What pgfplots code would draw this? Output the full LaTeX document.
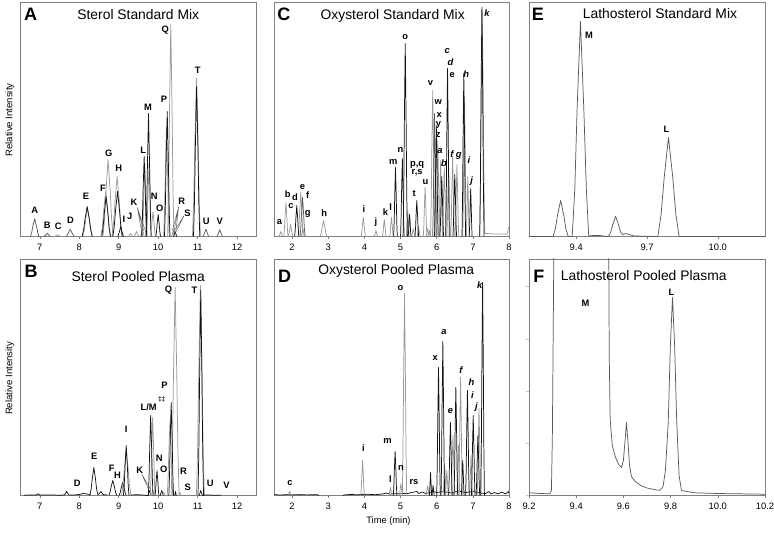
\documentclass[border=0pt]{standalone}
\usepackage{fontspec}
\setmainfont{Liberation Sans}
\usepackage{pgfplots}
\pgfplotsset{compat=1.18}
\definecolor{bk}{gray}{0.08}
\definecolor{gy}{gray}{0.6}
\definecolor{mg}{gray}{0.35}
\definecolor{fr}{gray}{0.5}
\pgfplotsset{
  panel/.style={
    scale only axis, anchor=south west,
    axis line style={fr, line width=0.5pt},
    every outer x axis line/.append style={fr},
    every outer y axis line/.append style={fr},
    tick align=outside, xtick pos=bottom, ytick=\empty,
    tick style={fr, line width=0.4pt}, major tick length=2.2pt,
    ymin=0, clip mode=individual,
    xticklabel style={font=\fontsize{7}{8}\selectfont, inner sep=1pt, yshift=-2.5pt},
    every axis plot/.append style={line width=0.55pt, line join=round},
    no markers,
  },
}
\tikzset{
  lbl/.style={font=\fontsize{7}{8}\selectfont\bfseries, inner sep=0pt},
  ilbl/.style={font=\fontsize{7}{8}\selectfont\bfseries\itshape, inner sep=0pt},
  ttl/.style={font=\fontsize{10.4}{12}\selectfont, inner sep=0pt},
  plt/.style={font=\fontsize{13.5}{14}\selectfont\bfseries, inner sep=0pt},
  ylb/.style={font=\fontsize{7.2}{8}\selectfont, inner sep=0pt, rotate=90},
}
\begin{document}
\begin{tikzpicture}
\useasboundingbox (0,0) rectangle (580.5pt,-403.5pt);
% ---------------- A ----------------
\begin{axis}[panel, at={(15.375pt,-177.375pt)}, width=176.625pt, height=175.875pt,
  xmin=6.51, xmax=12.48, ymax=234.5, xtick={7,8,9,10,11,12}, xticklabels={7,8,9,10,11,12}]
\addplot[mg] coordinates {(6.76,0)(6.793,3.9)(6.826,10.6)(6.87,17.7)(6.914,10.6)(6.947,3.9)(6.98,0)};
\addplot[mg] coordinates {(7.11,0)(7.154,1.65)(7.19,3.3)(7.226,1.65)(7.27,0)};
\addplot[gy] coordinates {(7.37,0)(7.414,0.85)(7.45,1.7)(7.486,0.85)(7.53,0)};
\addplot[mg] coordinates {(7.67,0)(7.725,3.65)(7.77,7.3)(7.815,3.65)(7.87,0)};
\addplot[gy] coordinates {(8.09,0)(8.126,6.2)(8.162,16.8)(8.21,28)(8.258,16.8)(8.294,6.2)(8.33,0)};
\addplot[bk] coordinates {(8.07,0)(8.109,6.6)(8.148,18)(8.2,30)(8.252,18)(8.291,6.6)(8.33,0)};
\addplot[gy] coordinates {(8.55,0)(8.586,9.9)(8.622,27)(8.67,45)(8.718,27)(8.754,9.9)(8.79,0)};
\addplot[gy] coordinates {(8.60,0)(8.639,16.9)(8.678,46.2)(8.73,77)(8.782,46.2)(8.821,16.9)(8.86,0)};
\addplot[bk] coordinates {(8.57,0)(8.603,8.8)(8.636,24)(8.68,40)(8.724,24)(8.757,8.8)(8.79,0)};
\addplot[gy] coordinates {(8.83,0)(8.869,13.2)(8.908,36)(8.96,60)(9.012,36)(9.051,13.2)(9.09,0)};
\addplot[bk] coordinates {(8.85,0)(8.886,9.9)(8.922,27)(8.97,45)(9.018,27)(9.054,9.9)(9.09,0)};
\addplot[bk] coordinates {(8.98,0)(9.019,5)(9.05,10)(9.081,5)(9.12,0)};
\addplot[gy] coordinates {(9.25,0)(9.3,3)(9.35,0)};
\addplot[gy] coordinates {(9.39,0)(9.423,2.5)(9.45,5)(9.477,2.5)(9.51,0)};
\addplot[gy] coordinates {(9.55,0)(9.578,4)(9.6,8)(9.622,4)(9.65,0)};
\addplot[gy] coordinates {(9.6,0)(9.618,15.8)(9.636,43.2)(9.66,72)(9.684,43.2)(9.702,15.8)(9.72,0)};
\addplot[gy] coordinates {(9.705,0)(9.725,16)(9.744,43.8)(9.77,73)(9.796,43.8)(9.815,16)(9.835,0)};
\addplot[bk] coordinates {(9.58,0)(9.6,17.6)(9.619,48)(9.645,80)(9.671,48)(9.69,17.6)(9.71,0)};
\addplot[bk] coordinates {(9.69,0)(9.71,27)(9.729,73.8)(9.755,123)(9.781,73.8)(9.8,27)(9.82,0)};
\addplot[gy] coordinates {(9.81,0)(9.828,5.5)(9.846,15)(9.87,25)(9.894,15)(9.912,5.5)(9.93,0)};
\addplot[bk] coordinates {(9.94,0)(9.958,4.8)(9.976,13.2)(10.0,22)(10.024,13.2)(10.042,4.8)(10.06,0)};
\addplot[gy] coordinates {(10.14,0)(10.161,24.2)(10.182,66)(10.21,110)(10.238,66)(10.259,24.2)(10.28,0)};
\addplot[gy] coordinates {(10.24,0)(10.264,46.6)(10.288,127)(10.32,212)(10.352,127)(10.376,46.6)(10.4,0)};
\addplot[bk] coordinates {(10.16,0)(10.181,27.5)(10.202,75)(10.23,125)(10.258,75)(10.279,27.5)(10.3,0)};
\addplot[gy] coordinates {(10.34,0)(10.362,3)(10.38,6)(10.398,3)(10.42,0)};
\addplot[bk] coordinates {(10.39,0)(10.41,2.5)(10.43,5)(10.45,2.5)(10.47,0)};
\addplot[gy] coordinates {(10.87,0)(10.9,34.8)(10.93,94.8)(10.97,158)(11.01,94.8)(11.04,34.8)(11.07,0)};
\addplot[bk] coordinates {(10.895,0)(10.919,33)(10.943,90)(10.975,150)(11.007,90)(11.031,33)(11.055,0)};
\addplot[mg] coordinates {(11.14,0)(11.178,3.65)(11.21,7.3)(11.242,3.65)(11.28,0)};
\addplot[mg] coordinates {(11.49,0)(11.528,3.35)(11.56,6.7)(11.592,3.35)(11.63,0)};
\draw[mg, line width=0.3pt] (axis cs:9.47,29) -- (axis cs:9.58,5) (axis cs:9.47,29) -- (axis cs:9.63,6) (axis cs:9.47,29) -- (axis cs:9.69,4);
\draw[mg, line width=0.3pt] (axis cs:10.52,30) -- (axis cs:10.36,6) (axis cs:10.52,30) -- (axis cs:10.40,5) (axis cs:10.52,30) -- (axis cs:10.45,5);
\draw[mg, line width=0.3pt] (axis cs:10.66,21) -- (axis cs:10.38,4) (axis cs:10.66,21) -- (axis cs:10.43,3);
\node[lbl] at (axis cs:6.87,26) {A};
\node[lbl] at (axis cs:7.19,11) {B};
\node[lbl] at (axis cs:7.47,10) {C};
\node[lbl] at (axis cs:7.78,16.7) {D};
\node[lbl] at (axis cs:8.17,40) {E};
\node[lbl] at (axis cs:8.60,48) {F};
\node[lbl] at (axis cs:8.75,83) {G};
\node[lbl] at (axis cs:9.00,68) {H};
\node[lbl] at (axis cs:9.13,17) {I};
\node[lbl] at (axis cs:9.28,20) {J};
\node[lbl] at (axis cs:9.39,34) {K};
\node[lbl] at (axis cs:9.62,86) {L};
\node[lbl] at (axis cs:9.74,129) {M};
\node[lbl] at (axis cs:9.90,40) {N};
\node[lbl] at (axis cs:10.04,28) {O};
\node[lbl] at (axis cs:10.15,137) {P};
\node[lbl] at (axis cs:10.18,206) {Q};
\node[lbl] at (axis cs:10.60,35) {R};
\node[lbl] at (axis cs:10.74,23) {S};
\node[lbl] at (axis cs:11.00,166) {T};
\node[lbl] at (axis cs:11.22,15) {U};
\node[lbl] at (axis cs:11.56,15) {V};
\node[ttl] at (rel axis cs:0.5,0.945) {Sterol Standard Mix};
\node[plt] at (rel axis cs:0.0425,0.949) {A};
\node[ylb] at (rel axis cs:-0.045,0.497) {Relative Intensity};
\end{axis}
% ---------------- B ----------------
\begin{axis}[panel, at={(15.375pt,-371.625pt)}, width=176.625pt, height=177.375pt,
  xmin=6.51, xmax=12.48, ymax=236.5, xtick={7,8,9,10,11,12}, xticklabels={7,8,9,10,11,12}]
\addplot[bk] coordinates {(6.6,0.3)(6.8,0.6)(6.9,0.4)(6.95,1.7)(7.0,0.4)(7.3,0.5)(7.5,0.3)(7.62,0.5)(7.653,2.15)(7.68,4.3)(7.707,2.15)(7.74,0.5)(7.9,0.6)(8.0,1)(8.1,2)(8.2,1.5)(8.27,1)};
\addplot[bk] coordinates {(8.27,0)(8.3,6.2)(8.33,16.8)(8.37,28)(8.41,16.8)(8.44,6.2)(8.47,1)(8.5,1.5)(8.55,4)(8.6,1)(8.7,0.5)};
\addplot[bk] coordinates {(8.75,0)(8.78,3.3)(8.81,9)(8.85,15)(8.89,9)(8.92,3.3)(8.95,0)};
\addplot[bk] coordinates {(9.01,0)(9.037,2.9)(9.064,7.8)(9.1,13)(9.136,7.8)(9.163,2.9)(9.19,0)};
\addplot[gy] coordinates {(9.07,0)(9.106,9.9)(9.142,27)(9.19,45)(9.238,27)(9.274,9.9)(9.31,0)};
\addplot[bk] coordinates {(9.12,0)(9.141,11)(9.162,30)(9.19,50)(9.218,30)(9.239,11)(9.26,0)};
\addplot[bk] coordinates {(9.3,0.5)(9.5,0.8)(9.74,0)(9.78,5)(9.82,0)};
\addplot[gy] coordinates {(9.83,0)(9.86,6)(9.9,0)};
\addplot[gy] coordinates {(9.8,0)(9.818,17.2)(9.836,46.8)(9.86,78)(9.884,46.8)(9.902,17.2)(9.92,0)};
\addplot[bk] coordinates {(9.75,0)(9.768,17.6)(9.786,48)(9.81,80)(9.834,48)(9.852,17.6)(9.87,0)};
\addplot[bk] coordinates {(9.92,0)(9.935,5.5)(9.95,15)(9.97,25)(9.99,15)(10.005,5.5)(10.02,0)};
\addplot[bk] coordinates {(10.05,0)(10.09,5)(10.13,0)};
\addplot[gy] coordinates {(10.11,0)(10.14,3)(10.18,0)};
\addplot[gy] coordinates {(10.23,0)(10.251,16.5)(10.272,45)(10.3,75)(10.328,45)(10.349,16.5)(10.37,0)};
\addplot[gy] coordinates {(10.33,0)(10.36,45.8)(10.39,124.8)(10.43,208)(10.47,124.8)(10.5,45.8)(10.53,0)};
\addplot[bk] coordinates {(10.27,0)(10.288,20.5)(10.306,55.8)(10.33,93)(10.354,55.8)(10.372,20.5)(10.39,0)};
\addplot[bk] coordinates {(10.42,0)(10.44,4)(10.46,0)};
\addplot[gy] coordinates {(10.52,0)(10.55,3)(10.58,0)};
\addplot[gy] coordinates {(10.97,0)(11.0,46.2)(11.03,126)(11.07,210)(11.11,126)(11.14,46.2)(11.17,0)};
\addplot[bk] coordinates {(11.01,0)(11.031,45.1)(11.052,123)(11.08,205)(11.108,123)(11.129,45.1)(11.15,0)};
\addplot[bk] coordinates {(11.04,0)(11.08,5)(11.12,0)(11.2,0.6)(11.4,0.3)(11.6,0.4)};
\draw[mg, line width=0.3pt] (axis cs:9.58,21.7) -- (axis cs:9.77,5) (axis cs:9.58,21.7) -- (axis cs:9.80,6.7);
\node[lbl] at (axis cs:7.95,12.3) {D};
\node[lbl] at (axis cs:8.38,39) {E};
\node[lbl] at (axis cs:8.82,27) {F};
\node[lbl] at (axis cs:8.97,20) {H};
\node[lbl] at (axis cs:9.19,66) {I};
\node[lbl] at (axis cs:9.53,25) {K};
\node[lbl] at (axis cs:9.76,88) {L/M};
\node[font=\fontsize{5}{6}\selectfont\bfseries, inner sep=0pt] at (axis cs:10.09,96) {‡‡};
\node[lbl] at (axis cs:10.03,37) {N};
\node[lbl] at (axis cs:10.14,26) {O};
\node[lbl] at (axis cs:10.16,110) {P};
\node[lbl] at (axis cs:10.26,205) {Q};
\node[lbl] at (axis cs:10.64,24) {R};
\node[lbl] at (axis cs:10.75,8) {S};
\node[lbl] at (axis cs:10.92,205) {T};
\node[lbl] at (axis cs:11.32,12) {U};
\node[lbl] at (axis cs:11.73,10) {V};
\node[ttl] at (rel axis cs:0.5,0.927) {Sterol Pooled Plasma};
\node[plt] at (rel axis cs:0.045,0.946) {B};
\node[ylb] at (rel axis cs:-0.045,0.495) {Relative Intensity};
\end{axis}
% ---------------- C ----------------
\begin{axis}[panel, at={(205.5pt,-177.375pt)}, width=176.25pt, height=175.875pt,
  xmin=1.5, xmax=8, ymax=234.5, xtick={2,3,4,5,6,7,8}, xticklabels={2,3,4,5,6,7,8}]
\addplot[gy] coordinates {(1.64,0)(1.667,2.5)(1.69,5)(1.713,2.5)(1.74,0)};
\addplot[gy] coordinates {(1.77,0)(1.788,7.5)(1.806,20.4)(1.83,34)(1.854,20.4)(1.872,7.5)(1.89,0)};
\addplot[gy] coordinates {(1.9,0)(1.933,6)(1.96,12)(1.987,6)(2.02,0)};
\addplot[gy] coordinates {(2.17,0)(2.191,9.7)(2.212,26.4)(2.24,44)(2.268,26.4)(2.289,9.7)(2.31,0)};
\addplot[bk] coordinates {(2.07,0)(2.088,6.8)(2.106,18.6)(2.13,31)(2.154,18.6)(2.172,6.8)(2.19,0)};
\addplot[mg] coordinates {(2.22,0)(2.241,8.6)(2.262,23.4)(2.29,39)(2.318,23.4)(2.339,8.6)(2.36,0)};
\addplot[gy] coordinates {(2.25,0)(2.28,4)(2.3,8)(2.32,4)(2.35,0)};
\addplot[gy] coordinates {(2.78,0)(2.807,3.5)(2.834,9.6)(2.87,16)(2.906,9.6)(2.933,3.5)(2.96,0)};
\addplot[gy] coordinates {(3.91,0)(3.928,4.2)(3.946,11.4)(3.97,19)(3.994,11.4)(4.012,4.2)(4.03,0)};
\addplot[gy] coordinates {(4.27,0)(4.3,3)(4.32,6)(4.34,3)(4.37,0)};
\addplot[gy] coordinates {(4.5,0)(4.515,3.7)(4.53,10.2)(4.55,17)(4.57,10.2)(4.585,3.7)(4.6,0)};
\addplot[gy] coordinates {(4.7,0)(4.715,4.2)(4.73,11.4)(4.75,19)(4.77,11.4)(4.785,4.2)(4.8,0)};
\addplot[gy] coordinates {(5.16,0)(5.172,5.7)(5.184,15.6)(5.2,26)(5.216,15.6)(5.228,5.7)(5.24,0)};
\addplot[gy] coordinates {(5.31,0)(5.35,8)(5.39,0)};
\addplot[gy] coordinates {(5.46,0)(5.5,10)(5.54,0)};
\addplot[gy] coordinates {(5.63,0)(5.645,10.8)(5.66,29.4)(5.68,49)(5.7,29.4)(5.715,10.8)(5.73,0)};
\addplot[gy] coordinates {(5.71,0)(5.75,8)(5.79,0)};
\addplot[gy] coordinates {(5.77,0)(5.8,6)(5.83,0)};
\addplot[gy] coordinates {(5.83,0)(5.848,32.1)(5.866,87.6)(5.89,146)(5.914,87.6)(5.932,32.1)(5.95,0)};
\addplot[gy] coordinates {(5.98,0)(5.995,21.1)(6.01,57.6)(6.03,96)(6.05,57.6)(6.065,21.1)(6.08,0)};
\addplot[gy] coordinates {(6.06,0)(6.075,16.7)(6.09,45.6)(6.11,76)(6.13,45.6)(6.145,16.7)(6.16,0)};
\addplot[gy] coordinates {(6.16,0)(6.175,15.2)(6.19,41.4)(6.21,69)(6.23,41.4)(6.245,15.2)(6.26,0)};
\addplot[gy] coordinates {(6.28,0)(6.295,15.4)(6.31,42)(6.33,70)(6.35,42)(6.365,15.4)(6.38,0)};
\addplot[gy] coordinates {(6.39,0)(6.405,17.6)(6.42,48)(6.44,80)(6.46,48)(6.475,17.6)(6.49,0)};
\addplot[gy] coordinates {(6.51,0)(6.525,15.8)(6.54,43.2)(6.56,72)(6.58,43.2)(6.595,15.8)(6.61,0)};
\addplot[gy] coordinates {(6.72,0)(6.735,30.8)(6.75,84)(6.77,140)(6.79,84)(6.805,30.8)(6.82,0)};
\addplot[gy] coordinates {(6.82,0)(6.832,13.2)(6.844,36)(6.86,60)(6.876,36)(6.888,13.2)(6.9,0)};
\addplot[gy] coordinates {(7.19,0)(7.211,49.5)(7.232,135)(7.26,225)(7.288,135)(7.309,49.5)(7.33,3)(7.4,3)(7.6,2.5)(7.95,2.5)(7.99,9)(8.0,9)};
\addplot[bk] coordinates {(4.81,0)(4.825,15.2)(4.84,41.4)(4.86,69)(4.88,41.4)(4.895,15.2)(4.91,0)};
\addplot[bk] coordinates {(5.0,0)(5.015,17.2)(5.03,46.8)(5.05,78)(5.07,46.8)(5.085,17.2)(5.1,0)};
\addplot[bk] coordinates {(5.07,0)(5.088,42.5)(5.106,115.8)(5.13,193)(5.154,115.8)(5.172,42.5)(5.19,0)};
\addplot[bk] coordinates {(5.21,0)(5.222,4.8)(5.234,13.2)(5.25,22)(5.266,13.2)(5.278,4.8)(5.29,0)};
\addplot[bk] coordinates {(5.4,0)(5.415,7.9)(5.43,21.6)(5.45,36)(5.47,21.6)(5.485,7.9)(5.5,0)};
\addplot[mg] coordinates {(5.89,0)(5.905,27.1)(5.92,73.8)(5.94,123)(5.96,73.8)(5.975,27.1)(5.99,0)};
\addplot[bk] coordinates {(5.94,0)(5.955,24.4)(5.97,66.6)(5.99,111)(6.01,66.6)(6.025,24.4)(6.04,0)};
\addplot[bk] coordinates {(6.09,0)(6.105,13.2)(6.12,36)(6.14,60)(6.16,36)(6.175,13.2)(6.19,0)};
\addplot[bk] coordinates {(6.25,0)(6.265,37)(6.28,100.8)(6.3,168)(6.32,100.8)(6.335,37)(6.35,0)};
\addplot[bk] coordinates {(6.45,0)(6.465,13.6)(6.48,37.2)(6.5,62)(6.52,37.2)(6.535,13.6)(6.55,0)};
\addplot[bk] coordinates {(6.7,0)(6.715,35.9)(6.73,97.8)(6.75,163)(6.77,97.8)(6.785,35.9)(6.8,0)};
\addplot[bk] coordinates {(6.9,0)(6.912,10.6)(6.924,28.8)(6.94,48)(6.956,28.8)(6.968,10.6)(6.98,0)};
\addplot[bk] coordinates {(7.19,0)(7.208,50.4)(7.226,137.4)(7.25,229)(7.274,137.4)(7.292,50.4)(7.31,0)};
\node[lbl] at (axis cs:1.65,14) {a};
\node[lbl] at (axis cs:1.88,42) {b};
\node[lbl] at (axis cs:1.97,30) {c};
\node[lbl] at (axis cs:2.08,39) {d};
\node[lbl] at (axis cs:2.29,49) {e};
\node[lbl] at (axis cs:2.43,41) {f};
\node[lbl] at (axis cs:2.43,23) {g};
\node[lbl] at (axis cs:2.89,23) {h};
\node[lbl] at (axis cs:3.99,27) {i};
\node[lbl] at (axis cs:4.32,14) {j};
\node[lbl] at (axis cs:4.58,24) {k};
\node[lbl] at (axis cs:4.73,29) {l};
\node[lbl] at (axis cs:4.80,75) {m};
\node[lbl] at (axis cs:5.00,87) {n};
\node[lbl] at (axis cs:5.13,199) {o};
\node[lbl] at (axis cs:5.46,72) {p,q};
\node[lbl] at (axis cs:5.46,64) {r,s};
\node[lbl] at (axis cs:5.38,43) {t};
\node[lbl] at (axis cs:5.69,54) {u};
\node[lbl] at (axis cs:5.83,153) {v};
\node[lbl] at (axis cs:6.04,134) {w};
\node[lbl] at (axis cs:6.07,121) {x};
\node[lbl] at (axis cs:6.05,111) {y};
\node[lbl] at (axis cs:6.04,101) {z};
\node[ilbl] at (axis cs:6.09,85) {a};
\node[ilbl] at (axis cs:6.20,73) {b};
\node[ilbl] at (axis cs:6.29,185) {c};
\node[ilbl] at (axis cs:6.38,174) {d};
\node[lbl] at (axis cs:6.43,161) {e};
\node[ilbl] at (axis cs:6.42,82) {f};
\node[ilbl] at (axis cs:6.61,81) {g};
\node[ilbl] at (axis cs:6.82,162) {h};
\node[ilbl] at (axis cs:6.89,76) {i};
\node[ilbl] at (axis cs:6.97,55) {j};
\node[ilbl] at (axis cs:7.39,223) {k};
\node[ttl] at (rel axis cs:0.505,0.94) {Oxysterol Standard Mix};
\node[plt] at (rel axis cs:0.042,0.947) {C};
\end{axis}
% ---------------- D ----------------
\begin{axis}[panel, at={(205.5pt,-371.625pt)}, width=176.25pt, height=177.375pt,
  xmin=1.5, xmax=8, ymax=236.5, xtick={2,3,4,5,6,7,8}, xticklabels={2,3,4,5,6,7,8}]
\addplot[bk] coordinates {(1.5,0.8)(1.7,0.5)(1.85,0.9)(2.0,0.6)(2.2,0.9)(2.4,0.6)(2.7,0.8)(2.75,0)};
\addplot[bk] coordinates {(3.4,0)(3.45,0.6)(3.6,1)(3.8,0.8)(4.1,1.2)(4.3,0.8)(4.5,1.5)(4.6,2.5)(4.7,1.5)(4.9,1.8)(5.2,2)(5.3,3)(5.45,4)(5.5,2)(5.6,3.5)(5.7,2)(5.9,4)(6.0,3)(6.2,4)(6.4,2.5)(6.6,4.5)(6.8,3)(7.0,4)(7.2,2.5)(7.35,2)(7.45,4)(7.5,1.5)(7.6,3)(7.7,1.5)(7.8,3.5)(7.9,1.5)(7.98,4)(8.0,2)};
\addplot[gy] coordinates {(1.88,0)(1.91,2)(1.93,4)(1.95,2)(1.98,0)};
\addplot[gy] coordinates {(3.9,0)(3.915,7.7)(3.93,21)(3.95,35)(3.97,21)(3.985,7.7)(4.0,0)};
\addplot[gy] coordinates {(4.68,0)(4.7,4)(4.72,8)(4.74,4)(4.76,0)};
\addplot[gy] coordinates {(4.97,0)(4.99,6)(5.01,12)(5.03,6)(5.05,0)};
\addplot[gy] coordinates {(5.05,0)(5.068,44.4)(5.086,121.2)(5.11,202)(5.134,121.2)(5.152,44.4)(5.17,0)};
\addplot[gy] coordinates {(5.71,0)(5.75,10)(5.79,0)};
\addplot[gy] coordinates {(6.18,0)(6.22,30)(6.26,0)};
\addplot[gy] coordinates {(6.24,0)(6.28,25)(6.32,0)};
\addplot[gy] coordinates {(6.4,0)(6.415,13.2)(6.43,36)(6.45,60)(6.47,36)(6.485,13.2)(6.5,0)};
\addplot[gy] coordinates {(6.56,0)(6.572,11)(6.584,30)(6.6,50)(6.616,30)(6.628,11)(6.64,0)};
\addplot[gy] coordinates {(6.61,0)(6.625,26)(6.64,70.8)(6.66,118)(6.68,70.8)(6.695,26)(6.71,0)};
\addplot[gy] coordinates {(6.91,0)(6.922,8.8)(6.934,24)(6.95,40)(6.966,24)(6.978,8.8)(6.99,0)};
\addplot[gy] coordinates {(7.12,0)(7.135,19.1)(7.15,52.2)(7.17,87)(7.19,52.2)(7.205,19.1)(7.22,0)};
\addplot[bk] coordinates {(4.8,0)(4.815,9.7)(4.83,26.4)(4.85,44)(4.87,26.4)(4.885,9.7)(4.9,0)};
\addplot[bk] coordinates {(5.8,0)(5.83,23)(5.86,0)};
\addplot[bk] coordinates {(5.87,0)(5.9,10)(5.93,0)};
\addplot[bk] coordinates {(6.0,0)(6.015,28.2)(6.03,76.8)(6.05,128)(6.07,76.8)(6.085,28.2)(6.1,0)};
\addplot[bk] coordinates {(6.12,0)(6.135,33.9)(6.15,92.4)(6.17,154)(6.19,92.4)(6.205,33.9)(6.22,0)};
\addplot[bk] coordinates {(6.33,0)(6.345,16.1)(6.36,43.8)(6.38,73)(6.4,43.8)(6.415,16.1)(6.43,0)};
\addplot[bk] coordinates {(6.48,0)(6.495,23.8)(6.51,64.8)(6.53,108)(6.55,64.8)(6.565,23.8)(6.58,0)};
\addplot[bk] coordinates {(6.68,0)(6.692,7.7)(6.704,21)(6.72,35)(6.736,21)(6.748,7.7)(6.76,0)};
\addplot[bk] coordinates {(6.8,0)(6.815,23.1)(6.83,63)(6.85,105)(6.87,63)(6.885,23.1)(6.9,0)};
\addplot[bk] coordinates {(6.96,0)(6.975,17.6)(6.99,48)(7.01,80)(7.03,48)(7.045,17.6)(7.06,0)};
\addplot[bk] coordinates {(7.09,0)(7.105,13.2)(7.12,36)(7.14,60)(7.16,36)(7.175,13.2)(7.19,0)};
\addplot[bk] coordinates {(7.22,0)(7.235,46.9)(7.25,127.8)(7.27,213)(7.29,127.8)(7.305,46.9)(7.32,0)};
\node[lbl] at (axis cs:1.94,12) {c};
\node[lbl] at (axis cs:3.97,47) {i};
\node[lbl] at (axis cs:4.64,55) {m};
\node[lbl] at (axis cs:4.72,16) {l};
\node[lbl] at (axis cs:5.01,28) {n};
\node[lbl] at (axis cs:5.37,13) {rs};
\node[lbl] at (axis cs:5.0,207) {o};
\node[lbl] at (axis cs:5.96,137) {x};
\node[ilbl] at (axis cs:6.20,163) {a};
\node[ilbl] at (axis cs:6.38,84) {e};
\node[ilbl] at (axis cs:6.67,125) {f};
\node[ilbl] at (axis cs:6.96,113) {h};
\node[ilbl] at (axis cs:6.99,100) {i};
\node[ilbl] at (axis cs:7.10,88) {j};
\node[ilbl] at (axis cs:7.19,210) {k};
\node[ttl] at (rel axis cs:0.52,0.951) {Oxysterol Pooled Plasma};
\node[plt] at (rel axis cs:0.045,0.926) {D};
\node[font=\fontsize{7}{8}\selectfont, inner sep=0pt] at (rel axis cs:0.487,-0.109) {Time (min)};
\end{axis}
% ---------------- E ----------------
\begin{axis}[panel, at={(396.75pt,-177.375pt)}, width=177pt, height=175.875pt,
  xmin=9.2, xmax=10.2, ymax=234.5, xtick={9.4,9.7,10.0}, xticklabels={9.4,9.7,10.0}]
\addplot[mg] coordinates {(9.2,0)(9.302,0)(9.312,7.9)(9.321,21.6)(9.334,36)(9.347,21.6)(9.356,7.9)(9.366,0)(9.383,0)(9.394,47.3)(9.404,129)(9.418,215)(9.432,129)(9.443,47.3)(9.453,0.5)(9.47,1)(9.5,1)(9.52,0.3)(9.537,0.3)(9.546,4.4)(9.555,12)(9.567,20)(9.579,12)(9.588,4.4)(9.597,2)(9.61,3)(9.625,2)(9.645,0.5)(9.746,0)(9.7595,21.8)(9.773,59.4)(9.791,99)(9.809,59.4)(9.8225,21.8)(9.836,0)(10.2,0)};
\node[lbl] at (axis cs:9.454,201) {M};
\node[lbl] at (axis cs:9.782,107) {L};
\node[ttl] at (rel axis cs:0.555,0.949) {Lathosterol Standard Mix};
\node[plt] at (rel axis cs:0.038,0.949) {E};
\end{axis}
% ---------------- F ----------------
\begin{axis}[panel, at={(396.75pt,-371.625pt)}, width=177pt, height=177.375pt,
  xmin=9.2, xmax=10.2, ymax=236.5, xtick={9.2,9.4,9.6,9.8,10.0,10.2}, xticklabels={9.2,9.4,9.6,9.8,10.0,10.2},
  ytick={0,52.2,104.4,156.6,208.8}, yticklabels={\relax,\relax,\relax,\relax,\relax}, ytick pos=left, ytick style={gray!50}]
\addplot[mg] coordinates {(9.2,2.7)(9.25,2)(9.288,1.7)(9.295,5)(9.299,60)(9.303,176)(9.307,300)(9.537,300)(9.540,139)(9.544,76)(9.553,50)(9.565,39)(9.58,31)(9.592,28)(9.6,35)(9.607,55)(9.613,73)(9.619,55)(9.626,30)(9.634,19)(9.65,14)(9.674,10)(9.7,7.5)(9.74,5.5)(9.755,5.3)(9.768,9)(9.778,25)(9.79,73)(9.799,150)(9.808,198)(9.817,150)(9.826,73)(9.836,20)(9.846,5)(9.9,2.7)(10.0,2)(10.2,1.3)};
\node[lbl] at (axis cs:9.439,192) {M};
\node[lbl] at (axis cs:9.804,203) {L};
\node[ttl] at (rel axis cs:0.486,0.928) {Lathosterol Pooled Plasma};
\node[plt] at (rel axis cs:0.042,0.926) {F};
\end{axis}
\end{tikzpicture}
\end{document}
